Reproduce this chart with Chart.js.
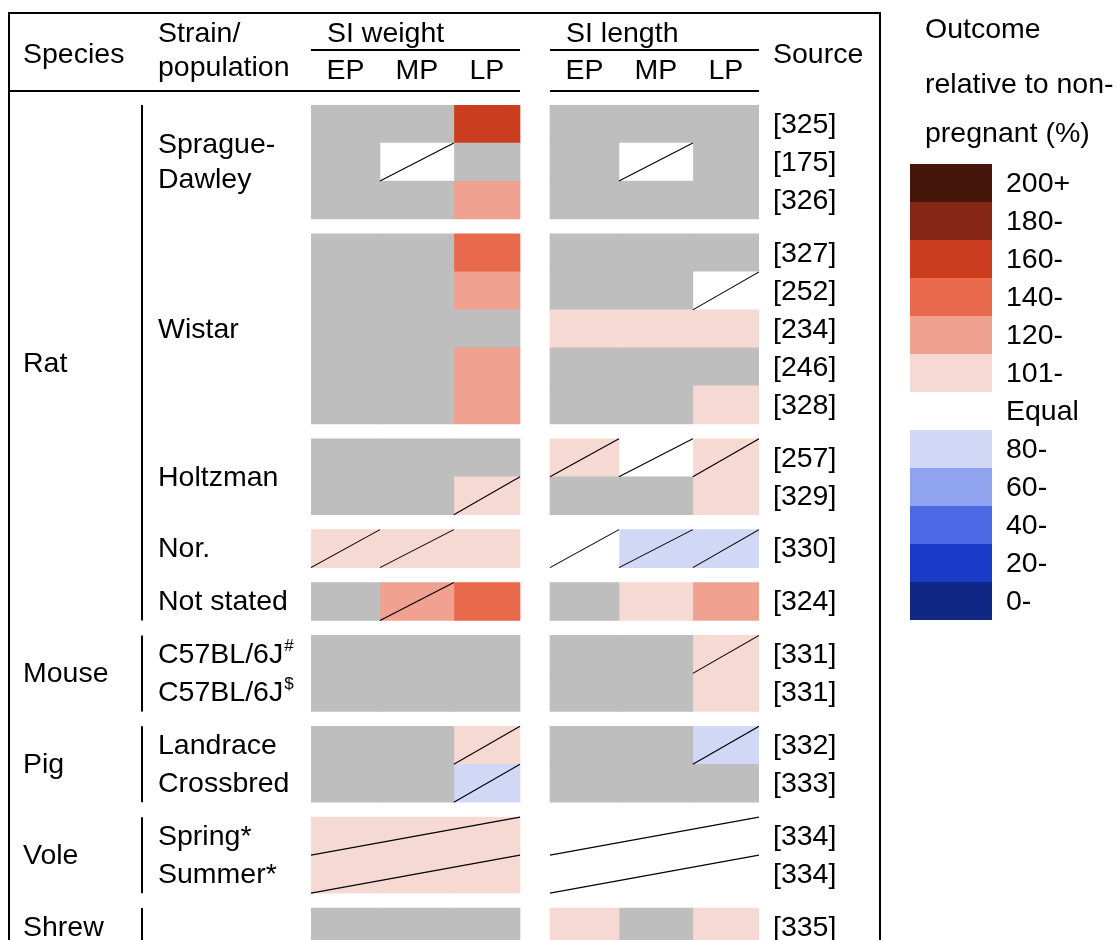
<!DOCTYPE html>
<html><head><meta charset="utf-8">
<script src="https://cdn.jsdelivr.net/npm/chart.js@4/dist/chart.umd.min.js"></script>
<style>html,body{margin:0;padding:0;background:#fff;overflow:hidden}#wrap{width:1120px;height:940px}</style>
</head><body><div id="wrap"><canvas id="c" width="1120" height="940"></canvas></div>
<script>
// ---------- data ----------
const sources = ['[325]','[175]','[326]','[327]','[252]','[234]','[246]','[328]','[257]','[329]','[330]','[324]','[331]','[331]','[332]','[333]','[334]','[334]','[335]'];
const blockSizes = [3,5,2,1,1,2,2,2,1];
const speciesNames = ['Rat','Mouse','Pig','Vole','Shrew'];
const speciesBlocks = [5,1,1,1,1];
const strainLines = [['Sprague-','Dawley'],['Wistar'],['Holtzman'],['Nor.'],['Not stated'],['C57BL/6J^#','C57BL/6J^$'],['Landrace','Crossbred'],['Spring*','Summer*'],[]];
const periods = ['EP','MP','LP'];
const groupTitles = ['SI weight','SI length'];

const weightEP = ['ns','ns','ns','ns','ns','ns','ns','ns','ns','ns','101','ns','ns','ns','ns','ns','101','101','ns'];
const weightMP = ['ns','eq','ns','ns','ns','ns','ns','ns','ns','ns','101','120','ns','ns','ns','ns','101','101','ns'];
const weightLP = ['160','ns','120','140','120','ns','120','120','ns','101','101','140','ns','ns','101','80','101','101','ns'];
const lengthEP = ['ns','ns','ns','ns','ns','101','ns','ns','101','ns','eq','ns','ns','ns','ns','ns','eq','eq','101'];
const lengthMP = ['ns','eq','ns','ns','ns','101','ns','ns','eq','ns','80','101','ns','ns','ns','ns','eq','eq','ns'];
const lengthLP = ['ns','ns','ns','ns','eq','101','ns','101','101','101','80','120','101','101','80','ns','eq','eq','101'];
// hatch (diagonal) marks: E/M/L = that period cell, S = one line across the whole group
const weightHatch = ['','M','','','','','','','','L','EM','M','','','L','L','S','S',''];
const lengthHatch = ['','M','','','L','','','','EML','','EML','','L','','L','','S','S',''];

const legendLabels = ['200+','180-','160-','140-','120-','101-','Equal','80-','60-','40-','20-','0-'];
const legendKeys = ['200','180','160','140','120','101',null,'80','60','40','20','0'];
const levelColors = {ns:'#BEBEBE', eq:'#FFFFFF', '200':'#45150A','180':'#862715','160':'#CC3C1E','140':'#E8694B','120':'#F0A190','101':'#F7D9D3','80':'#D1D8F6','60':'#8FA3EE','40':'#4B69E5','20':'#1A3AC8','0':'#112785'};

// ---------- layout (units of the chart scales) ----------
const GAP = 14.875/38;              // gap between blocks, in row units
const colEdges = [0, 0.99, 2.05, 3]; // EP / MP / LP boundaries inside a group
const groupOffsets = [0, 3.43];      // SI weight, SI length

const rowTop = [];
(function(){ let y = 0; blockSizes.forEach((n,b)=>{ if(b>0) y += GAP; for(let i=0;i<n;i++){ rowTop.push(y); y += 1; } }); })();
const blockStart = []; (function(){ let r=0; blockSizes.forEach(n=>{ blockStart.push(r); r+=n; }); })();

const columns = [[weightEP,weightMP,weightLP],[lengthEP,lengthMP,lengthLP]];
const hatches = [weightHatch,lengthHatch];

const datasets = [];
columns.forEach((grp,g)=>{
  grp.forEach((vals,c)=>{
    datasets.push({
      type:'bar', indexAxis:'y', grouped:false, order:2,
      barPercentage:1, categoryPercentage:1, borderWidth:0,
      data: vals.map((v,r)=>({y: rowTop[r]+0.5, x:[groupOffsets[g]+colEdges[c], groupOffsets[g]+colEdges[c+1]]})),
      backgroundColor: vals.map(v=>levelColors[v])
    });
  });
});
hatches.forEach((arr,g)=>{
  arr.forEach((h,r)=>{
    const segs = [];
    if (h === 'S') segs.push([0,3]);
    else { if(h.includes('E')) segs.push([colEdges[0],colEdges[1]]); if(h.includes('M')) segs.push([colEdges[1],colEdges[2]]); if(h.includes('L')) segs.push([colEdges[2],colEdges[3]]); }
    segs.forEach(s=>{
      datasets.push({type:'line', order:0, data:[{x:groupOffsets[g]+s[0], y:rowTop[r]+1},{x:groupOffsets[g]+s[1], y:rowTop[r]}],
        borderColor:'#000', borderWidth:1.1, pointRadius:0, fill:false, tension:0});
    });
  });
});

const FONT = '28.5px "Liberation Sans", Arial, sans-serif';
const SUPFONT = '17px "Liberation Sans", Arial, sans-serif';

const tablePlugin = {
  id:'table',
  afterDraw(chart){
    const ctx = chart.ctx, xs = chart.scales.x, ys = chart.scales.y;
    ctx.save();
    ctx.strokeStyle = '#000'; ctx.fillStyle = '#000';
    // outer box
    ctx.lineWidth = 2;
    ctx.beginPath(); ctx.moveTo(9,950); ctx.lineTo(9,13); ctx.lineTo(880,13); ctx.lineTo(880,950); ctx.stroke();
    // header rules
    const gx0 = xs.getPixelForValue(groupOffsets[0]), gx1 = xs.getPixelForValue(groupOffsets[0]+3);
    const lx0 = xs.getPixelForValue(groupOffsets[1]), lx1 = xs.getPixelForValue(groupOffsets[1]+3);
    ctx.beginPath();
    ctx.moveTo(gx0,50); ctx.lineTo(gx1,50); ctx.moveTo(lx0,50); ctx.lineTo(lx1,50);
    ctx.moveTo(9,91); ctx.lineTo(gx1,91); ctx.moveTo(lx0,91); ctx.lineTo(lx1,91);
    ctx.stroke();
    // header text
    ctx.font = FONT; ctx.textBaseline = 'alphabetic'; ctx.textAlign = 'left';
    ctx.fillText('Species', 23, 63);
    ctx.fillText('Strain/', 158, 42);
    ctx.fillText('population', 158, 76);
    ctx.fillText('Source', 773, 63);
    groupTitles.forEach((t,g)=>{ ctx.fillText(t, xs.getPixelForValue(groupOffsets[g]) + 16, 42); });
    ctx.textAlign = 'center';
    groupOffsets.forEach(off=>{
      periods.forEach((p,c)=>{ ctx.fillText(p, xs.getPixelForValue(off+(colEdges[c]+colEdges[c+1])/2), 79); });
    });
    // species & strain
    ctx.textAlign = 'left'; ctx.textBaseline = 'middle';
    let b = 0;
    speciesNames.forEach((sp,s)=>{
      const firstRow = blockStart[b];
      const lastBlock = b + speciesBlocks[s] - 1;
      const lastRow = blockStart[lastBlock] + blockSizes[lastBlock] - 1;
      const top = ys.getPixelForValue(rowTop[firstRow]);
      const bot = ys.getPixelForValue(rowTop[lastRow]+1);
      ctx.font = FONT;
      ctx.fillText(sp, 23, (top+bot)/2 + 1);
      ctx.lineWidth = 2;
      ctx.beginPath(); ctx.moveTo(142, top); ctx.lineTo(142, bot); ctx.stroke();
      b += speciesBlocks[s];
    });
    blockSizes.forEach((n,bk)=>{
      const lines = strainLines[bk];
      const r0 = blockStart[bk];
      let ycs;
      if (lines.length === n) ycs = lines.map((_,i)=>ys.getPixelForValue(rowTop[r0+i]+0.5));
      else {
        const c = (ys.getPixelForValue(rowTop[r0]) + ys.getPixelForValue(rowTop[r0+n-1]+1))/2;
        ycs = lines.map((_,i)=>c + (i-(lines.length-1)/2)*35);
      }
      lines.forEach((t,i)=>{
        const parts = t.split('^');
        ctx.font = FONT;
        ctx.fillText(parts[0], 158, ycs[i]+1);
        if (parts[1]) {
          const w = ctx.measureText(parts[0]).width;
          ctx.font = SUPFONT;
          ctx.fillText(parts[1], 158 + w + 1, ycs[i] - 8);
        }
      });
    });
    // sources
    ctx.font = FONT;
    sources.forEach((s,r)=>{ ctx.fillText(s, 773, ys.getPixelForValue(rowTop[r]+0.5)+1); });
    // legend
    ctx.fillText('Outcome', 925, 30);
    ctx.fillText('relative to non-', 925, 85);
    ctx.fillText('pregnant (%)', 925, 134);
    legendLabels.forEach((l,i)=>{
      const y = 164 + i*38;
      if (legendKeys[i]) { ctx.fillStyle = levelColors[legendKeys[i]]; ctx.fillRect(910, y, 82, 38); }
      ctx.fillStyle = '#000';
      ctx.fillText(l, 1006, y + 19 + 1);
    });
    ctx.restore();
  }
};

new Chart(document.getElementById('c'), {
  type:'bar',
  data:{datasets},
  options:{
    responsive:false, animation:false, devicePixelRatio:1,
    layout:{padding:{left:311, right:361, top:105, bottom:0}},
    plugins:{legend:{display:false}, tooltip:{enabled:false}},
    scales:{
      x:{type:'linear', display:false, offset:false, min:0, max:groupOffsets[1]+3, grid:{display:false}},
      y:{type:'linear', display:false, offset:false, reverse:true, min:0, max:835/38, grid:{display:false}}
    }
  },
  plugins:[tablePlugin]
});
</script></body></html>
